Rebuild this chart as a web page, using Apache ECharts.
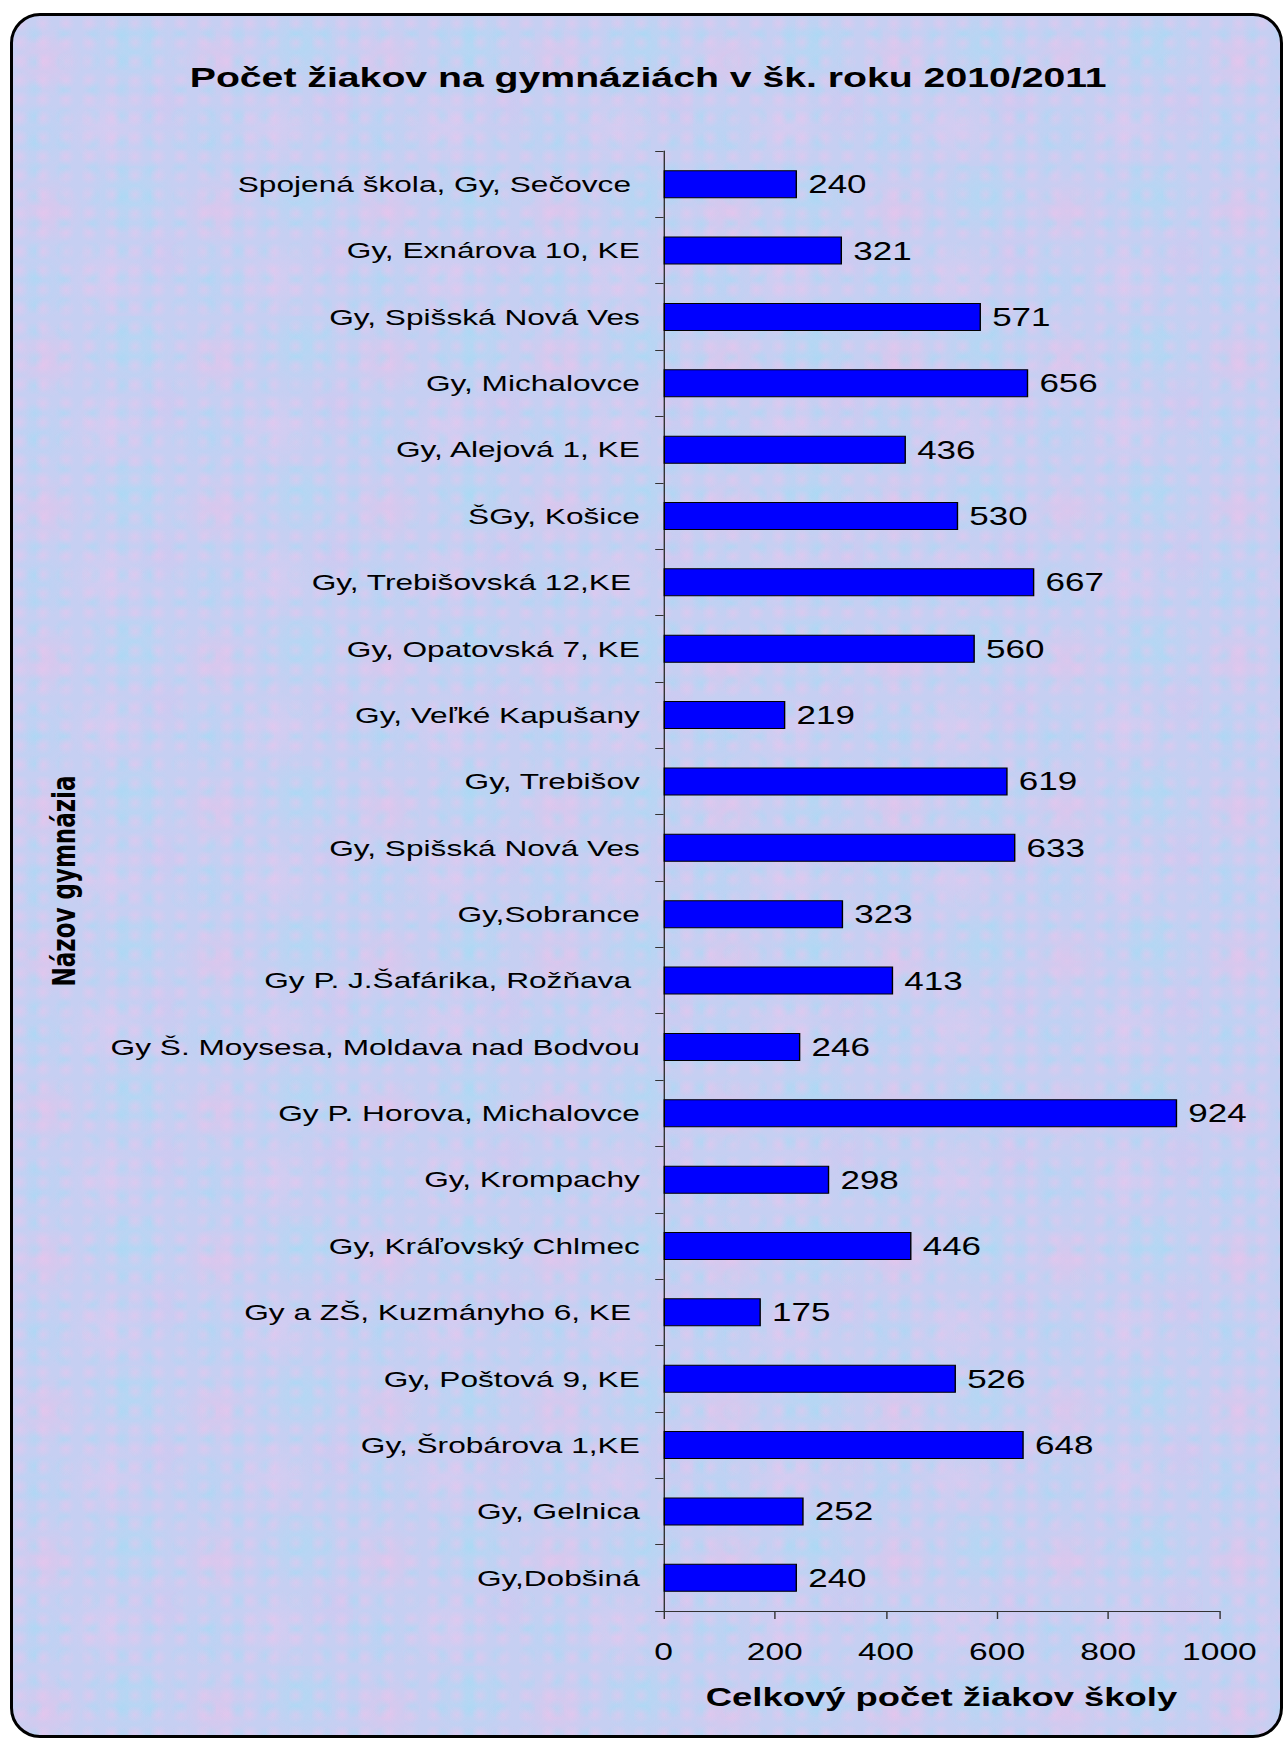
<!DOCTYPE html>
<html>
<head>
<meta charset="utf-8">
<title>Počet žiakov na gymnáziách</title>
<script src="https://cdn.jsdelivr.net/npm/echarts@6/dist/echarts.min.js"></script>
<style>
    html, body { margin: 0; padding: 0; background: #ffffff; }
    #frame {
        position: absolute; left: 10px; top: 13px;
        width: 1267px; height: 1719px;
        border: 3px solid #000; border-radius: 30px;
        background-color: #c6cff2;
        background-image:
            radial-gradient(circle at 30% 40%, rgba(240, 196, 236, 0.45) 0, rgba(240, 196, 236, 0) 9px),
            radial-gradient(circle at 75% 70%, rgba(160, 220, 245, 0.45) 0, rgba(160, 220, 245, 0) 10px),
            radial-gradient(circle at 20% 30%, rgba(238, 190, 232, 0.5) 0, rgba(238, 190, 232, 0) 36px),
            radial-gradient(circle at 70% 20%, rgba(165, 222, 245, 0.55) 0, rgba(165, 222, 245, 0) 42px),
            radial-gradient(circle at 55% 75%, rgba(230, 200, 240, 0.45) 0, rgba(230, 200, 240, 0) 38px),
            radial-gradient(circle at 15% 80%, rgba(175, 215, 245, 0.5) 0, rgba(175, 215, 245, 0) 34px),
            radial-gradient(circle at 90% 60%, rgba(215, 195, 240, 0.45) 0, rgba(215, 195, 240, 0) 32px);
        background-size: 23px 19px, 29px 27px, 170px 150px, 170px 150px, 170px 150px, 170px 150px, 170px 150px;
    }
    /* the picture is stretched sideways, so the chart is drawn narrow and widened */
    #chart {
        position: absolute; left: 0; top: 0;
        width: 917px; height: 1738px;
        transform: scaleX(1.4); transform-origin: 0 0;
    }
</style>
</head>
<body>
<div id="frame"></div>
<div id="chart"></div>
<script>
// Data, top to bottom
const schools = [
    "Spojená škola, Gy, Sečovce ",
    "Gy, Exnárova 10, KE",
    "Gy, Spišská Nová Ves",
    "Gy, Michalovce",
    "Gy, Alejová 1, KE",
    "ŠGy, Košice",
    "Gy, Trebišovská 12,KE ",
    "Gy, Opatovská 7, KE",
    "Gy, Veľké Kapušany",
    "Gy, Trebišov",
    "Gy, Spišská Nová Ves",
    "Gy,Sobrance",
    "Gy P. J.Šafárika, Rožňava ",
    "Gy Š. Moysesa, Moldava nad Bodvou",
    "Gy P. Horova, Michalovce",
    "Gy, Krompachy",
    "Gy, Kráľovský Chlmec",
    "Gy a ZŠ, Kuzmányho 6, KE ",
    "Gy, Poštová 9, KE",
    "Gy, Šrobárova 1,KE",
    "Gy, Gelnica",
    "Gy,Dobšiná"
];

const students = [240, 321, 571, 656, 436, 530, 667, 560, 219, 619, 633,
                  323, 413, 246, 924, 298, 446, 175, 526, 648, 252, 240];

const titleText = "Počet žiakov na gymnáziách v šk. roku 2010/2011";
const xAxisName = "Celkový počet žiakov školy";
const yAxisName = "Názov gymnázia";

const font = "'Liberation Sans', Arial, sans-serif";
const axisColor = "#333333";

const chart = echarts.init(document.getElementById("chart"), null, { renderer: "svg" });

chart.setOption({
    backgroundColor: "transparent",
    animation: false,
    title: {
        text: titleText,
        left: 458,
        textAlign: "center",
        top: 58,
        textStyle: { fontFamily: font, fontWeight: "bold", fontSize: 28, color: "#000" }
    },
    grid: { left: 474, right: 46, top: 151, bottom: 127, containLabel: false },
    xAxis: {
        type: "value",
        min: 0,
        max: 1000,
        interval: 200,
        name: xAxisName,
        nameLocation: "middle",
        nameGap: 73,
        nameTextStyle: { fontFamily: font, fontWeight: "bold", fontSize: 26, color: "#000" },
        axisLine: { show: true, lineStyle: { color: axisColor, width: 1 } },
        axisTick: { show: true, length: 8, lineStyle: { color: axisColor } },
        axisLabel: {
            margin: 29, fontFamily: font, fontSize: 24, color: "#000",
            formatter: (v) => String(v)
        },
        splitLine: { show: false }
    },
    yAxis: {
        type: "category",
        inverse: true,
        data: schools,
        name: yAxisName,
        nameLocation: "middle",
        nameRotate: 90,
        nameGap: 417,
        nameTextStyle: { fontFamily: "'DejaVu Sans', sans-serif", fontWeight: "bold", fontSize: 23, color: "#000" },
        axisLine: { show: true, lineStyle: { color: axisColor, width: 1 } },
        axisTick: { show: true, length: 6, lineStyle: { color: axisColor } },
        axisLabel: { margin: 17, fontFamily: font, fontSize: 22.6, color: "#000", interval: 0 }
    },
    series: [{
        type: "bar",
        data: students,
        barWidth: 28,
        itemStyle: { color: "#0000ff", borderColor: "#000", borderWidth: 1 },
        label: {
            show: true,
            position: "right",
            distance: 8,
            fontFamily: font,
            fontSize: 25,
            color: "#000"
        }
    }]
});
</script>
</body>
</html>
